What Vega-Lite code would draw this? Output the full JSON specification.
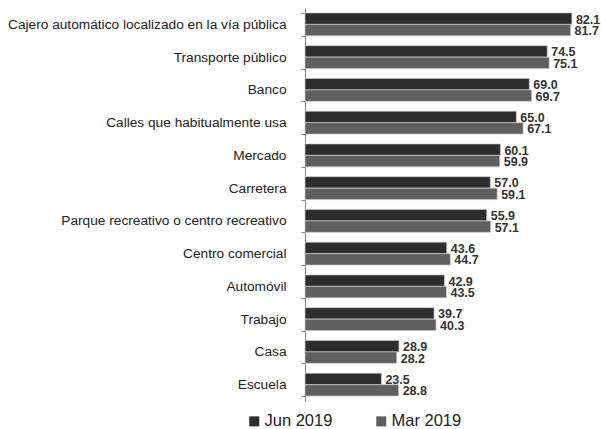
{
  "$schema": "https://vega.github.io/schema/vega-lite/v6.json",
  "width": 290,
  "height": 393,
  "autosize": {"type": "none"},
  "padding": {"left": 305, "top": 8, "right": 6, "bottom": 28},
  "background": "white",
  "config": {"view": {"stroke": null}, "font": "Liberation Sans"},
  "data": {
    "values": [
      {"cat": "Cajero automático localizado en la vía pública", "serie": "Jun 2019", "v": 82.1},
      {"cat": "Cajero automático localizado en la vía pública", "serie": "Mar 2019", "v": 81.7},
      {"cat": "Transporte público", "serie": "Jun 2019", "v": 74.5},
      {"cat": "Transporte público", "serie": "Mar 2019", "v": 75.1},
      {"cat": "Banco", "serie": "Jun 2019", "v": 69.0},
      {"cat": "Banco", "serie": "Mar 2019", "v": 69.7},
      {"cat": "Calles que habitualmente usa", "serie": "Jun 2019", "v": 65.0},
      {"cat": "Calles que habitualmente usa", "serie": "Mar 2019", "v": 67.1},
      {"cat": "Mercado", "serie": "Jun 2019", "v": 60.1},
      {"cat": "Mercado", "serie": "Mar 2019", "v": 59.9},
      {"cat": "Carretera", "serie": "Jun 2019", "v": 57.0},
      {"cat": "Carretera", "serie": "Mar 2019", "v": 59.1},
      {"cat": "Parque recreativo o centro recreativo", "serie": "Jun 2019", "v": 55.9},
      {"cat": "Parque recreativo o centro recreativo", "serie": "Mar 2019", "v": 57.1},
      {"cat": "Centro comercial", "serie": "Jun 2019", "v": 43.6},
      {"cat": "Centro comercial", "serie": "Mar 2019", "v": 44.7},
      {"cat": "Automóvil", "serie": "Jun 2019", "v": 42.9},
      {"cat": "Automóvil", "serie": "Mar 2019", "v": 43.5},
      {"cat": "Trabajo", "serie": "Jun 2019", "v": 39.7},
      {"cat": "Trabajo", "serie": "Mar 2019", "v": 40.3},
      {"cat": "Casa", "serie": "Jun 2019", "v": 28.9},
      {"cat": "Casa", "serie": "Mar 2019", "v": 28.2},
      {"cat": "Escuela", "serie": "Jun 2019", "v": 23.5},
      {"cat": "Escuela", "serie": "Mar 2019", "v": 28.8}
    ]
  },
  "encoding": {
    "y": {
      "field": "cat", "type": "nominal", "sort": null,
      "scale": {"paddingInner": 0.3, "paddingOuter": 0.15},
      "axis": {
        "title": null, "tickBand": "extent", "tickSize": 4, "tickColor": "#888",
        "domainColor": "#888", "labelFontSize": 13.7, "labelColor": "#222",
        "labelPadding": 15, "labelLimit": 400
      }
    },
    "yOffset": {"field": "serie", "type": "nominal", "sort": ["Jun 2019", "Mar 2019"]},
    "x": {
      "field": "v", "type": "quantitative",
      "scale": {"domain": [0, 89.2], "nice": false},
      "axis": null
    }
  },
  "layer": [
    {
      "mark": {"type": "bar", "stroke": "#c8c8c8", "strokeWidth": 0.7},
      "encoding": {
        "color": {
          "field": "serie", "type": "nominal",
          "scale": {"domain": ["Jun 2019", "Mar 2019"], "range": ["#2d2d2d", "#5f5f5f"]},
          "legend": {
            "title": null, "orient": "none", "direction": "horizontal",
            "legendX": -59, "legendY": 405, "symbolType": "square", "symbolSize": 100,
            "symbolStrokeWidth": 0, "labelFontSize": 16.5, "labelColor": "#222",
            "columnPadding": 40, "labelOffset": 2
          }
        }
      }
    },
    {
      "mark": {"type": "text", "align": "left", "baseline": "middle", "dx": 4, "dy": 1, "fontSize": 12.5, "fontWeight": "bold", "color": "#333"},
      "encoding": {
        "text": {"field": "v", "type": "quantitative", "format": ".1f"}
      }
    }
  ]
}
